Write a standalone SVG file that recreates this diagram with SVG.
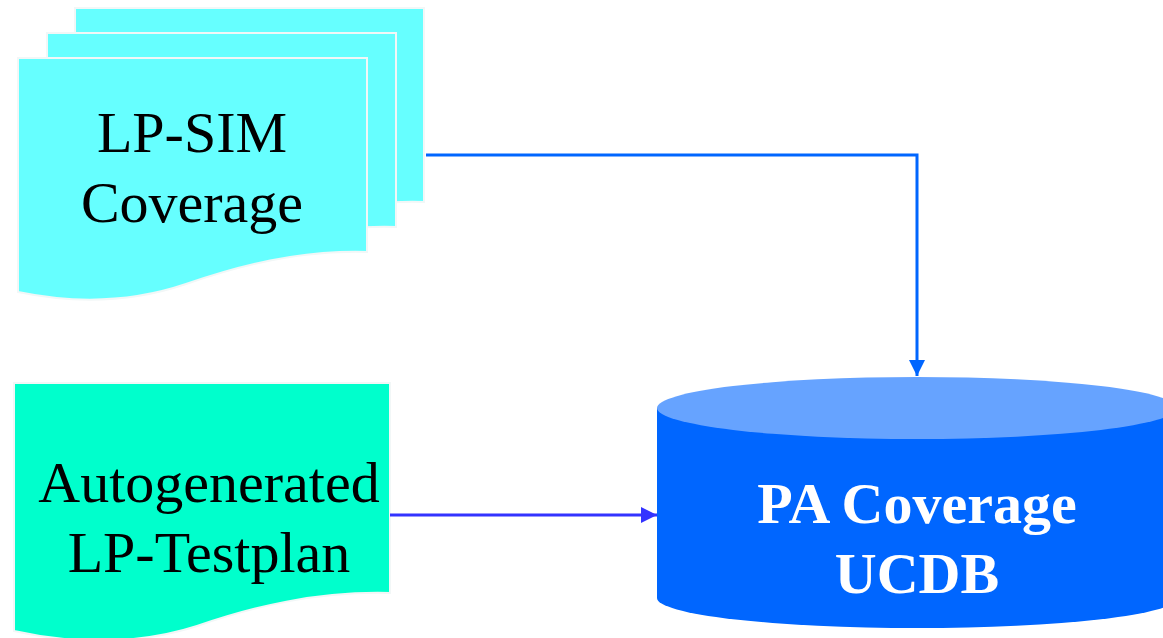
<svg xmlns="http://www.w3.org/2000/svg" width="1163" height="638" viewBox="0 0 1163 638">
  <style>
    .sheet { fill: #66ffff; stroke: #f2f7f7; stroke-width: 2; }
    .plan { fill: #00ffcc; stroke: #f2f7f7; stroke-width: 2; }
    .doc-text { font-family: "Liberation Serif", "Times New Roman", serif; font-size: 58px; fill: #000000; text-anchor: middle; }
    .db-text { font-family: "Liberation Serif", "Times New Roman", serif; font-size: 58px; font-weight: bold; fill: #ffffff; text-anchor: middle; }
    .link-a { fill: none; stroke: #0066ff; stroke-width: 3; }
    .link-b { fill: none; stroke: #3333ff; stroke-width: 3; }
  </style>
  <defs>
    <marker id="arrow-a" viewBox="0 0 16 16" refX="16" refY="8" markerWidth="16" markerHeight="16" orient="auto" markerUnits="userSpaceOnUse">
      <path d="M0,0 L16,8 L0,16 z" fill="#0066ff"/>
    </marker>
    <marker id="arrow-b" viewBox="0 0 16 16" refX="16" refY="8" markerWidth="16" markerHeight="16" orient="auto" markerUnits="userSpaceOnUse">
      <path d="M0,0 L16,8 L0,16 z" fill="#3333ff"/>
    </marker>
    <!-- document outline with wavy bottom, origin at top-left corner -->
    <path id="doc-shape" d="M0,0 H349 V194 C280,192 220,208 168,226 C115,244 58,246 0,234 Z"/>
  </defs>

  <!-- LP-SIM coverage: stack of three sheets -->
  <g id="lp-sim-coverage">
    <use href="#doc-shape" class="sheet" x="75" y="8"/>
    <use href="#doc-shape" class="sheet" x="47" y="33"/>
    <use href="#doc-shape" class="sheet" x="18" y="58"/>
    <text class="doc-text" x="192" y="152">LP-SIM</text>
    <text class="doc-text" x="192" y="222">Coverage</text>
  </g>

  <!-- Autogenerated testplan document -->
  <g id="autogenerated-testplan">
    <path class="plan" d="M14,383 H390 V593 C316,591 252,607 197,626 C142,644 76,645 14,631 Z"/>
    <text class="doc-text" x="209" y="502">Autogenerated</text>
    <text class="doc-text" x="209" y="572">LP-Testplan</text>
  </g>

  <!-- PA coverage database cylinder -->
  <g id="pa-coverage-ucdb">
    <path d="M657,408 V598 A260,30 0 0 0 1177,598 V408 Z" fill="#0066ff"/>
    <ellipse cx="917" cy="408" rx="260" ry="31" fill="#66a3ff"/>
    <text class="db-text" x="917" y="523">PA Coverage</text>
    <text class="db-text" x="917" y="593">UCDB</text>
  </g>

  <!-- connectors -->
  <g id="connectors">
    <path class="link-a" d="M426,155 H917 V376" marker-end="url(#arrow-a)"/>
    <path class="link-b" d="M390,515 H657" marker-end="url(#arrow-b)"/>
  </g>
</svg>
